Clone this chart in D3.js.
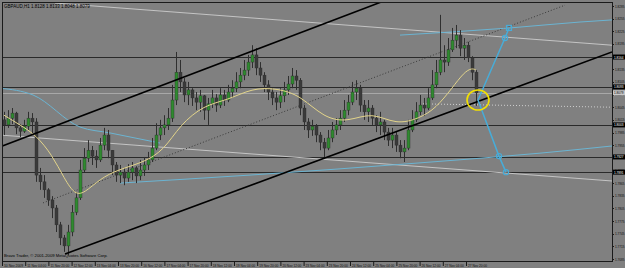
<!DOCTYPE html>
<html lang="en">
<head>
<meta charset="UTF-8">
<title>GBPAUD,H1</title>
<script src="https://cdn.jsdelivr.net/npm/d3@7"></script>
<style>
    body { margin: 0; background: #808080; }
    text { font-family: "Liberation Sans", Arial, sans-serif; }
</style>
</head>
<body>
<div id="d3"></div>
<script>
// H1 candles (price)
var opens = [1.8015,1.8003,1.8019,1.8031,1.7996,1.7988,1.8000,1.8019,1.8010,1.7884,
    1.7868,1.7849,1.7825,1.7806,1.7766,1.7735,1.7716,1.7749,1.7796,1.7830,
    1.7896,1.7924,1.7943,1.7929,1.7920,1.7955,1.7979,1.7943,1.7908,1.7884,
    1.7891,1.7877,1.7891,1.7901,1.7882,1.7896,1.7908,1.7920,1.7948,1.7979,
    1.7996,1.8003,1.8019,1.8062,1.8128,1.8105,1.8074,1.8086,1.8067,1.8057,
    1.8072,1.8038,1.8053,1.8067,1.8050,1.8074,1.8062,1.8081,1.8090,1.8105,
    1.8121,1.8133,1.8152,1.8169,1.8138,1.8121,1.8098,1.8081,1.8067,1.8057,
    1.8072,1.8086,1.8100,1.8119,1.8109,1.8043,1.8010,1.7991,1.8000,1.7979,
    1.7962,1.7948,1.7972,1.7991,1.8003,1.8019,1.8038,1.8057,1.8081,1.8090,
    1.8050,1.8034,1.8043,1.8019,1.8003,1.8010,1.7986,1.7967,1.7979,1.7955,
    1.7939,1.7948,1.7991,1.8015,1.8034,1.8050,1.8043,1.8067,1.8098,1.8128,
    1.8157,1.8152,1.8181,1.8204,1.8216,1.8185,1.8192,1.8162,1.8128];
var highs = [1.8034,1.8038,1.8043,1.8034,1.8005,1.8015,1.8034,1.8031,1.8019,1.7901,
    1.7884,1.7853,1.7834,1.7813,1.7773,1.7742,1.7766,1.7813,1.7844,1.7920,
    1.7948,1.7967,1.7953,1.7943,1.7972,1.7996,1.7991,1.7943,1.7915,1.7908,
    1.7901,1.7910,1.7915,1.7905,1.7920,1.7927,1.7939,1.7972,1.8007,1.8015,
    1.8026,1.8043,1.8098,1.8176,1.8157,1.8114,1.8105,1.8090,1.8081,1.8086,
    1.8074,1.8067,1.8086,1.8076,1.8090,1.8086,1.8098,1.8109,1.8128,1.8138,
    1.8157,1.8169,1.8192,1.8185,1.8152,1.8128,1.8109,1.8090,1.8081,1.8090,
    1.8105,1.8119,1.8138,1.8133,1.8114,1.8050,1.8019,1.8015,1.8005,1.7986,
    1.7972,1.7991,1.8010,1.8019,1.8038,1.8062,1.8074,1.8105,1.8109,1.8098,
    1.8062,1.8062,1.8050,1.8026,1.8034,1.8015,1.7996,1.7996,1.7986,1.7967,
    1.7967,1.8015,1.8038,1.8057,1.8074,1.8067,1.8090,1.8133,1.8157,1.8264,
    1.8192,1.8209,1.8233,1.8240,1.8228,1.8209,1.8200,1.8166,1.8133];
var lows = [1.7979,1.7996,1.8005,1.7981,1.7974,1.7984,1.7991,1.7979,1.7868,1.7849,
    1.7830,1.7811,1.7782,1.7749,1.7718,1.7702,1.7694,1.7739,1.7789,1.7825,
    1.7891,1.7915,1.7908,1.7901,1.7915,1.7943,1.7924,1.7884,1.7868,1.7865,
    1.7860,1.7868,1.7872,1.7865,1.7872,1.7882,1.7896,1.7915,1.7943,1.7967,
    1.7979,1.7991,1.8010,1.8050,1.8081,1.8057,1.8050,1.8048,1.8038,1.8034,
    1.8015,1.8003,1.8043,1.8034,1.8043,1.8048,1.8057,1.8067,1.8081,1.8090,
    1.8109,1.8119,1.8138,1.8121,1.8105,1.8081,1.8062,1.8050,1.8038,1.8043,
    1.8057,1.8074,1.8090,1.8086,1.8026,1.7991,1.7972,1.7977,1.7962,1.7943,
    1.7927,1.7943,1.7962,1.7979,1.7991,1.8010,1.8026,1.8050,1.8062,1.8034,
    1.8015,1.8010,1.8003,1.7986,1.7979,1.7967,1.7953,1.7948,1.7939,1.7924,
    1.7915,1.7943,1.7986,1.8010,1.8026,1.8024,1.8038,1.8062,1.8090,1.8121,
    1.8128,1.8143,1.8176,1.8185,1.8166,1.8157,1.8152,1.8109,1.8048];
var closes = [1.8003,1.8019,1.8031,1.7996,1.7988,1.8000,1.8019,1.8010,1.7884,1.7868,
    1.7849,1.7825,1.7806,1.7766,1.7735,1.7716,1.7749,1.7796,1.7830,1.7896,
    1.7924,1.7943,1.7929,1.7920,1.7955,1.7979,1.7943,1.7908,1.7884,1.7891,
    1.7877,1.7891,1.7901,1.7882,1.7896,1.7908,1.7920,1.7948,1.7979,1.7996,
    1.8003,1.8019,1.8062,1.8128,1.8105,1.8074,1.8086,1.8067,1.8057,1.8072,
    1.8038,1.8053,1.8067,1.8050,1.8074,1.8062,1.8081,1.8090,1.8105,1.8121,
    1.8133,1.8152,1.8169,1.8138,1.8121,1.8098,1.8081,1.8067,1.8057,1.8072,
    1.8086,1.8100,1.8119,1.8109,1.8043,1.8010,1.7991,1.8000,1.7979,1.7962,
    1.7948,1.7972,1.7991,1.8003,1.8019,1.8038,1.8057,1.8081,1.8090,1.8050,
    1.8034,1.8043,1.8019,1.8003,1.8010,1.7986,1.7967,1.7979,1.7955,1.7939,
    1.7948,1.7991,1.8015,1.8034,1.8050,1.8043,1.8067,1.8098,1.8128,1.8157,
    1.8152,1.8181,1.8204,1.8216,1.8185,1.8192,1.8162,1.8128,1.8079];

// moving average (yellow), bar index / price
var maIdx  = [0,4,8,12,15,18,21,25,30,35,40,44,50,56,62,68,74,80,86,92,98,104,108,112,115,117,118];
var maVals = [1.8026,1.8003,1.7979,1.7932,1.7877,1.7832,1.7849,1.7882,1.7901,1.7915,1.7943,1.8003,1.8050,
    1.8062,1.8090,1.8090,1.8074,1.8019,1.8010,1.8034,1.8003,1.8019,1.8043,1.8090,1.8128,1.8138,1.8133];

// blue indicator lines
var blueAIdx  = [-1,7.25,19,26.5,39];
var blueAVals = [1.8090,1.8074,1.7998,1.7984,1.7960];
var blueBIdx  = [29,61.5,104,134,152];
var blueBVals = [1.7865,1.7884,1.7913,1.7936,1.7953];
var blueCIdx  = [99,126.5,144,152];
var blueCVals = [1.8216,1.8233,1.8247,1.8252];

// drawn objects: [idx1, price1, idx2, price2]
var blackLines = [[-1,1.7951,95,1.8297],[15.25,1.7697,152,1.8176]];
var dottedLine = [9.75,1.7818,140.25,1.8287];
var greyLines  = [[12.75,1.8292,152,1.8192],[-1,1.7979,152,1.7870]];
var greyDotted = [104,1.8053,152,1.8045];
var hLines     = [1.8164,1.8093,1.8003,1.7927,1.7891];
var bidPrice   = 1.8079;

// projection arrows from the circled bar
var upIdx   = [118.5,125.25,126.25];
var upVals  = [1.8062,1.8209,1.8233];
var downIdx  = [118.5,123.75,125.5];
var downVals = [1.8062,1.7929,1.7891];
var ringIdx = 118.5, ringPrice = 1.8062;

var priceTicks = [1.8285,1.8255,1.8225,1.8195,1.8165,1.8135,1.8105,1.8075,1.8045,1.8015,
    1.7985,1.7955,1.7925,1.7895,1.7865,1.7835,1.7805,1.7775,1.7745,1.7715,1.7685];
var timeLabels = ["10 Nov 2009","11 Nov 04:00","11 Nov 20:00","12 Nov 12:00","13 Nov 04:00","13 Nov 20:00",
    "16 Nov 12:00","17 Nov 04:00","17 Nov 20:00","18 Nov 12:00","19 Nov 04:00","19 Nov 20:00",
    "20 Nov 12:00","23 Nov 04:00","23 Nov 20:00","24 Nov 12:00","25 Nov 04:00","25 Nov 20:00",
    "26 Nov 12:00","27 Nov 04:00","27 Nov 20:00"];

var width = 625, height = 268;
var pLeft = 2, pRight = 612, pTop = 2, pBottom = 261;

var x = d3.scaleLinear().domain([0, 118]).range([4, 476]);
var y = d3.scaleLinear().domain([1.7685, 1.8285]).range([259, 6]);
var xt = d3.scalePoint().domain(timeLabels).range([2, 2 + 23.2 * (timeLabels.length - 1)]);
var fmt = d3.format(".4f");

var svg = d3.select("#d3").append("svg")
    .attr("width", width)
    .attr("height", height)
    .style("display", "block");

svg.append("rect").attr("width", width).attr("height", height).attr("fill", "#808080");

svg.append("clipPath").attr("id", "plot")
    .append("rect")
    .attr("x", pLeft).attr("y", pTop)
    .attr("width", pRight - pLeft).attr("height", pBottom - pTop);

var plot = svg.append("g").attr("clip-path", "url(#plot)");

function seg(g, l) {
    return g.append("line")
        .attr("x1", x(l[0])).attr("y1", y(l[1]))
        .attr("x2", x(l[2])).attr("y2", y(l[3]));
}

// horizontal levels
hLines.forEach(function (p) {
    plot.append("line")
        .attr("x1", pLeft).attr("x2", pRight)
        .attr("y1", Math.round(y(p)) + 0.5).attr("y2", Math.round(y(p)) + 0.5)
        .attr("stroke", "#2a2a2a").attr("stroke-width", 1);
});
plot.append("line")
    .attr("x1", pLeft).attr("x2", pRight)
    .attr("y1", Math.round(y(bidPrice)) + 0.5).attr("y2", Math.round(y(bidPrice)) + 0.5)
    .attr("stroke", "#a8a8a8").attr("stroke-width", 1);

greyLines.forEach(function (l) {
    seg(plot, l).attr("stroke", "#c4c4c4").attr("stroke-width", 1);
});
seg(plot, greyDotted).attr("stroke", "#d0d0d0").attr("stroke-dasharray", "1,2");
seg(plot, dottedLine).attr("stroke", "#3a3a3a").attr("stroke-dasharray", "1,2");

// blue indicator curves
var lineGen = d3.line()
    .x(function (d) { return x(d[0]); })
    .y(function (d) { return y(d[1]); })
    .curve(d3.curveMonotoneX);

[[blueAIdx, blueAVals], [blueBIdx, blueBVals], [blueCIdx, blueCVals]].forEach(function (s) {
    plot.append("path")
        .attr("d", lineGen(d3.zip(s[0], s[1])))
        .attr("fill", "none")
        .attr("stroke", "#6bb4d2")
        .attr("stroke-width", 1);
});

// candles
var bars = d3.range(opens.length).map(function (i) {
    return {i: i, o: opens[i], h: highs[i], l: lows[i], c: closes[i]};
});
var candle = plot.selectAll("g.candle").data(bars).enter().append("g").attr("class", "candle");
candle.append("line")
    .attr("x1", function (d) { return Math.round(x(d.i)) + 0.5; })
    .attr("x2", function (d) { return Math.round(x(d.i)) + 0.5; })
    .attr("y1", function (d) { return y(d.h); })
    .attr("y2", function (d) { return y(d.l); })
    .attr("stroke", "#2f2f2f");
candle.append("rect")
    .attr("x", function (d) { return Math.round(x(d.i)) - 1; })
    .attr("width", 3)
    .attr("y", function (d) { return y(Math.max(d.o, d.c)); })
    .attr("height", function (d) { return Math.max(1, Math.abs(y(d.o) - y(d.c))); })
    .attr("fill", function (d) { return d.c >= d.o ? "#2f8a2f" : "#3a3a3a"; })
    .attr("stroke", "#2f2f2f")
    .attr("stroke-width", 0.4);

// moving average
plot.append("path")
    .attr("d", d3.line()
        .x(function (d) { return x(d[0]); })
        .y(function (d) { return y(d[1]); })
        .curve(d3.curveBasis)(d3.zip(maIdx, maVals)))
    .attr("fill", "none")
    .attr("stroke", "#e2d48a")
    .attr("stroke-width", 1);

// channel lines
blackLines.forEach(function (l) {
    seg(plot, l).attr("stroke", "#000").attr("stroke-width", 1.6);
});

// projection
var straight = d3.line()
    .x(function (d) { return x(d[0]); })
    .y(function (d) { return y(d[1]); });
[[upIdx, upVals], [downIdx, downVals]].forEach(function (s) {
    plot.append("path")
        .attr("d", straight(d3.zip(s[0], s[1])))
        .attr("fill", "none")
        .attr("stroke", "#48acd8")
        .attr("stroke-width", 1.5);
});
[[upIdx[1], upVals[1]], [downIdx[1], downVals[1]], [downIdx[2], downVals[2]]].forEach(function (p) {
    plot.append("circle")
        .attr("cx", x(p[0])).attr("cy", y(p[1])).attr("r", 2.6)
        .attr("fill", "none").attr("stroke", "#48acd8").attr("stroke-width", 1.2);
});
plot.append("rect")
    .attr("x", x(upIdx[2]) - 2.5).attr("y", y(upVals[2]) - 2.5)
    .attr("width", 5).attr("height", 5)
    .attr("fill", "none").attr("stroke", "#48acd8").attr("stroke-width", 1.2);

plot.append("ellipse")
    .attr("cx", x(ringIdx)).attr("cy", y(ringPrice))
    .attr("rx", 11).attr("ry", 10)
    .attr("fill", "none").attr("stroke", "#f2e000").attr("stroke-width", 1.6);

// frame
svg.append("rect")
    .attr("x", pLeft + 0.5).attr("y", pTop + 0.5)
    .attr("width", pRight - pLeft).attr("height", pBottom - pTop)
    .attr("fill", "none").attr("stroke", "#1a1a1a");

// price axis
var pAxis = svg.append("g");
pAxis.selectAll("line").data(priceTicks).enter().append("line")
    .attr("x1", pRight).attr("x2", pRight + 2)
    .attr("y1", function (d) { return Math.round(y(d)) + 0.5; })
    .attr("y2", function (d) { return Math.round(y(d)) + 0.5; })
    .attr("stroke", "#1a1a1a");
pAxis.selectAll("text").data(priceTicks).enter().append("text")
    .attr("x", pRight + 3)
    .attr("y", function (d) { return y(d) + 1.5; })
    .attr("font-size", 4.2)
    .attr("textLength", 9.5)
    .attr("lengthAdjust", "spacingAndGlyphs")
    .attr("fill", "#111")
    .text(fmt);

var tags = hLines.concat([bidPrice]);
var tag = svg.append("g").selectAll("g").data(tags).enter().append("g");
tag.append("rect")
    .attr("x", pRight + 1)
    .attr("y", function (d) { return y(d) - 2.5; })
    .attr("width", 12).attr("height", 5)
    .attr("fill", function (d) { return d === bidPrice ? "#c8c8c8" : "#000"; });
tag.append("text")
    .attr("x", pRight + 2)
    .attr("y", function (d) { return y(d) + 1.5; })
    .attr("font-size", 4.2)
    .attr("textLength", 9.5)
    .attr("lengthAdjust", "spacingAndGlyphs")
    .attr("fill", function (d) { return d === bidPrice ? "#000" : "#fff"; })
    .text(fmt);

// time axis
var tAxis = svg.append("g");
tAxis.selectAll("line").data(timeLabels).enter().append("line")
    .attr("x1", function (d) { return xt(d) + 0.5; })
    .attr("x2", function (d) { return xt(d) + 0.5; })
    .attr("y1", pBottom).attr("y2", pBottom + 5)
    .attr("stroke", "#1a1a1a");
tAxis.selectAll("text").data(timeLabels).enter().append("text")
    .attr("x", function (d) { return xt(d) + 2; })
    .attr("y", pBottom + 5.5)
    .attr("font-size", 4.2)
    .attr("textLength", 19)
    .attr("lengthAdjust", "spacingAndGlyphs")
    .attr("fill", "#111")
    .text(function (d) { return d; });

// header and footer texts
svg.append("text")
    .attr("x", 4).attr("y", 8)
    .attr("font-size", 4.5).attr("fill", "#000")
    .text("GBPAUD,H1  " + fmt(opens[opens.length - 1]) + " " + fmt(highs[highs.length - 1]) + " " +
        fmt(lows[lows.length - 1]) + " " + fmt(closes[closes.length - 1]));
svg.append("text")
    .attr("x", 4).attr("y", 257)
    .attr("font-size", 4.2).attr("fill", "#000")
    .text("Bravo Trader, \u00a9 2001-2009 MetaQuotes Software Corp.");
</script>
</body>
</html>
